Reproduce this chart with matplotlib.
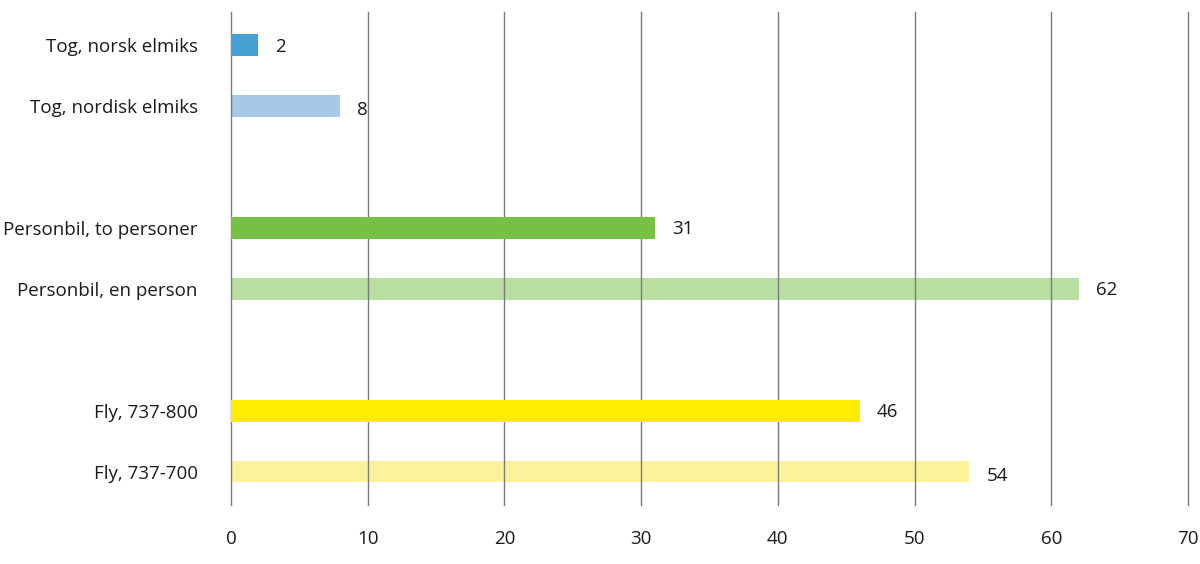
import matplotlib
matplotlib.use("Agg")
import matplotlib.pyplot as plt

categories = ["Tog, norsk elmiks", "Tog, nordisk elmiks", "Personbil, to personer",
              "Personbil, en person", "Fly, 737-800", "Fly, 737-700"]
values = [2, 8, 31, 62, 46, 54]
slots = [0, 1, 3, 4, 6, 7]
colors = ["#46A0D4", "#A6C9E7", "#76C043", "#B9DEA2", "#FFEC00", "#FDF29C"]
light = [False, True, False, True, False, True]
xticks = [0, 10, 20, 30, 40, 50, 60, 70]

plt.rcParams['font.family'] = ['Open Sans', 'DejaVu Sans']

fig = plt.figure(figsize=(12, 5.64), dpi=100)
ax = fig.add_axes([0.1925, 0.1046, 0.7975, 0.8744])

for x in xticks:
    ax.axvline(x, color="#7a7a7a", linewidth=1.0, zorder=1, clip_on=False)

for s, v, c, lt in zip(slots, values, colors, light):
    ax.barh(s, v, height=0.36, color=c, zorder=0.5 if lt else 2)

for i, (s, v) in enumerate(zip(slots, values)):
    dy = -3 if i in (1, 5) else -1
    ax.annotate(str(v), xy=(v, s), xytext=(12.3, dy), textcoords="offset points",
                ha="left", va="center", fontsize=13.5, color="#1a1a1a")

ax.set_xlim(0, 70)
ax.set_ylim(7.55, -0.55)
ax.set_yticks(slots)
ax.set_yticklabels(categories, fontsize=13.5, color="#1a1a1a")
ax.set_xticks(xticks)
ax.set_xticklabels([str(t) for t in xticks], fontsize=13.5, color="#1a1a1a")
ax.tick_params(axis="y", length=0, pad=24)
ax.tick_params(axis="x", length=0, pad=18)
for sp in ax.spines.values():
    sp.set_visible(False)

fig.savefig("out.png", dpi=100)
